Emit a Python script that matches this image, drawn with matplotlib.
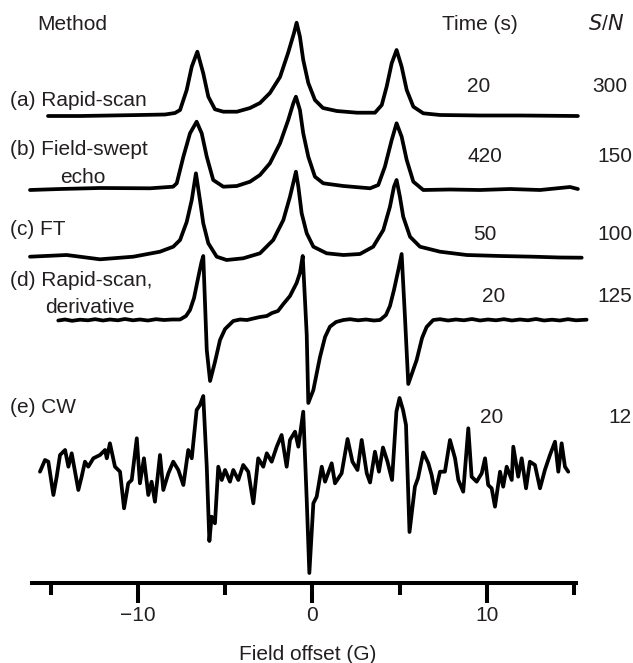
import numpy as np
import matplotlib
matplotlib.use("Agg")
import matplotlib.pyplot as plt

plt.rcParams['font.family'] = ['Liberation Sans', 'DejaVu Sans']

# ---- spectra (field in G, signal in arbitrary units) ----
a_field = [-15.16, -13.32, -11.60, -9.89, -8.45, -7.88, -7.59, -7.21, -6.92, -6.60,
           -6.26, -5.97, -5.59, -5.11, -4.33, -3.58, -3.01, -2.44, -1.86, -1.40,
           -1.06, -0.91, -0.72, -0.53, -0.24, 0.14, 0.60, 1.39, 2.55, 3.58,
           3.97, 4.25, 4.54, 4.82, 5.11, 5.40, 5.78, 6.35, 7.31, 9.60,
           11.89, 15.21]
a_signal = [0, 0, 0.5, 1, 1.5, 3, 6, 26, 49.3, 64.3,
            42.7, 19.3, 6.7, 4.3, 4.3, 8, 13, 23, 39, 63,
            83, 93.3, 79.3, 56, 33, 16, 8, 5, 3.3, 3.3,
            11, 29.3, 52.7, 66, 49.3, 26, 9.3, 2.7, 1, 0.5,
            0.5, 0]

b_field = [-16.19, -14.47, -12.18, -9.31, -7.99, -7.78, -7.40, -7.02, -6.64, -6.35,
           -6.06, -5.69, -5.11, -4.34, -3.58, -3.01, -2.44, -1.86, -1.39, -1.10,
           -0.95, -0.72, -0.53, -0.24, 0.14, 0.62, 1.77, 3.30, 3.77, 4.15,
           4.54, 4.82, 5.11, 5.40, 5.78, 6.35, 7.88, 9.60, 11.32, 13.04,
           14.76, 15.21]
b_signal = [0, 1, 2, 1.7, 3.3, 6.7, 33.3, 56.7, 68.3, 56.7,
            33.3, 10, 3.3, 4, 8.3, 15, 26.7, 46.7, 70, 86.7,
            93.3, 80, 56.7, 33.3, 13.3, 6.7, 4, 1.7, 5, 23.3,
            50, 66.7, 53.3, 30, 8.3, 0, 0.5, 0, 1, 0,
            3, 1]

c_field = [-16.19, -14.09, -12.18, -10.27, -8.74, -7.98, -7.59, -7.21, -6.92, -6.68,
           -6.45, -6.26, -5.97, -5.49, -4.92, -3.97, -3.01, -2.25, -1.67, -1.29,
           -1.06, -0.95, -0.81, -0.62, -0.33, 0.05, 0.81, 1.77, 2.72, 3.48,
           4.06, 4.44, 4.67, 4.82, 5.01, 5.20, 5.59, 6.16, 7.31, 8.84,
           10.75, 12.64, 14.18, 15.43]
c_signal = [0.3, 2, -2.3, 0.3, 5.3, 10.3, 17, 35, 57, 83.7,
            57, 33.7, 13.7, 0.3, -3, -1.3, 3.7, 17, 37, 60.3,
            77, 85.3, 70.3, 43.7, 23.7, 10.3, 3.7, 2, 3, 10.3,
            27, 50.3, 70.3, 77, 60.3, 40.3, 20.3, 10.3, 5.3, 2,
            1, 0.3, -0.5, -0.7]

d_field = [-14.57, -14.18, -13.78, -13.32, -12.87, -12.46, -12.01, -11.61, -11.15, -10.75,
           -10.29, -9.89, -9.43, -8.97, -8.51, -8.05, -7.59, -7.25, -7.02, -6.79,
           -6.54, -6.36, -6.26, -6.06, -5.87, -5.59, -5.30, -5.01, -4.54, -4.15,
           -3.75, -3.39, -3.01, -2.62, -2.32, -1.98, -1.67, -1.29, -0.91, -0.72,
           -0.56, -0.43, -0.33, -0.24, 0.05, 0.43, 0.72, 1.00, 1.35, 1.77,
           2.15, 2.61, 3.07, 3.52, 3.87, 4.21, 4.44, 4.67, 4.92, 5.11,
           5.30, 5.49, 5.97, 6.28, 6.54, 6.92, 7.31, 7.77, 8.22, 8.68,
           9.14, 9.60, 10.06, 10.52, 10.97, 11.43, 11.89, 12.35, 12.81, 13.27,
           13.73, 14.18, 14.64, 15.10, 15.71]
d_signal = [-0.5, 0.5, -0.8, 0.3, -0.3, 0.8, -0.5, 0.5, -0.3, 1,
            -0.3, 0.5, -0.5, 0.8, 0, 0.5, 0.5, 4, 10, 22,
            43.3, 58, 64, -30, -61, -42, -20, -9, -1, 0.5,
            0, 1.5, 3, 4, 7, 9, 16, 24, 37, 47,
            64, 20, -15, -83, -70, -37, -17, -6.7, -2, 0,
            0.8, -0.3, 0.5, -0.5, 0, 5, 14, 30, 50, 66,
            3, -64, -40, -18, -7, 0, 0.8, -0.5, 0.5, -0.3,
            1, -0.5, 0.5, -0.3, 0.8, -0.5, 0.5, -0.3, 1, -0.5,
            0.3, -0.5, 0.8, -0.3, 0.3]

e_field = [-15.62, -15.33, -15.14, -14.85, -14.66, -14.47, -14.18, -13.99, -13.80, -13.42,
           -13.23, -13.04, -12.85, -12.56, -12.18, -11.89, -11.79, -11.61, -11.32, -11.03,
           -10.80, -10.56, -10.36, -10.07, -9.89, -9.66, -9.41, -9.22, -9.03, -8.74,
           -8.55, -8.26, -7.98, -7.69, -7.40, -7.12, -6.92, -6.64, -6.45, -6.26,
           -6.06, -5.91, -5.78, -5.59, -5.40, -5.20, -5.01, -4.73, -4.54, -4.25,
           -3.97, -3.68, -3.39, -3.11, -2.82, -2.62, -2.34, -2.05, -1.77, -1.48,
           -1.29, -1.00, -0.81, -0.53, -0.33, -0.18, 0.05, 0.24, 0.53, 0.72,
           1.10, 1.29, 1.67, 2.01, 2.29, 2.58, 2.82, 3.11, 3.30, 3.58,
           3.81, 4.04, 4.30, 4.56, 4.81, 4.99, 5.19, 5.36, 5.56, 5.87,
           6.05, 6.35, 6.64, 6.83, 7.02, 7.31, 7.59, 7.88, 8.17, 8.36,
           8.64, 8.93, 9.12, 9.41, 9.70, 9.89, 10.07, 10.27, 10.46, 10.75,
           10.93, 11.13, 11.42, 11.51, 11.79, 11.99, 12.24, 12.46, 12.75, 13.04,
           13.32, 13.61, 13.90, 14.09, 14.28, 14.47, 14.66]
e_signal = [-1.7, 10, 8.3, -25, -6.7, 15, 20, 3.3, 16.7, -20,
            -6.7, 8.3, 3.3, 11.7, 15, 20, 11.7, 26.7, 3.3, -1.7,
            -38.3, -13.3, -10, 31.7, -13.3, 11.7, -25, -11.7, -31.7, 15,
            -20, -3.3, 8.3, 0, -15, 20, 11.7, 60, 65, 74,
            3.3, -71, -46.7, -53.3, 3.3, -10, 0, -11.7, 0, -10,
            5, -1.7, -33.3, 11.7, 3.3, 16.7, 8.3, 23.3, 35, 3.3,
            30, 38.3, 23.3, 58.3, -30, -103, -33.3, -26.7, 3.3, -11.7,
            6.7, -13.3, -3.3, 31, 8.3, 0, 30, -3.3, -12.5, 18.3,
            -1.7, 22.5, 8.3, -10, 58.3, 72, 60, 45, -62, -16.7,
            -8, 17.5, 6.7, -5, -23.3, -1.7, -1.7, 30, 11.7, -10,
            -21.7, 41.7, -6.7, -11.7, -3.3, 11.7, -15, -18.3, -36.7, -1.7,
            -16.7, 3.3, -10, 23.3, -6.7, 11.7, -18.3, 8.3, 5, -18.3,
            0, 15, 28.3, -1.7, 26.7, 3.3, -1.7]

methods = ['(a) Rapid-scan', '(b) Field-swept', '(c) FT', '(d) Rapid-scan,', '(e) CW']
times = ['20', '420', '50', '20', '20']
snr = ['300', '150', '100', '125', '12']

# ---- layout (pixel frame of the 633x663 picture) ----
W, H = 633, 663
ink = '#231f20'
fs = 15

fig = plt.figure(figsize=(W / 100, H / 100), dpi=100)
ax = fig.add_axes([0, 80 / H, 1, 583 / H])
ax.set_xlim(-17.91, 18.37)
ax.set_ylim(583, 0)

baselines = [116, 190, 257, 320, 470]
traces = [(a_field, a_signal), (b_field, b_signal), (c_field, c_signal),
          (d_field, d_signal), (e_field, e_signal)]
for (f, s), base in zip(traces, baselines):
    ax.plot(f, base - np.asarray(s), color='black', lw=2.7,
            solid_joinstyle='round', solid_capstyle='round', clip_on=False)

for side in ['left', 'top', 'right']:
    ax.spines[side].set_visible(False)
ax.spines['bottom'].set_linewidth(2.9)
ax.spines['bottom'].set_bounds(-16.1, 15.1)
ax.set_yticks([])
ax.set_xticks([-10, 0, 10])
ax.set_xticks([-15, -5, 5, 15], minor=True)
ax.tick_params(axis='x', which='major', length=14.4, width=2.9, pad=2.5,
               labelsize=fs, labelcolor=ink)
ax.tick_params(axis='x', which='minor', length=8.6, width=2.9)


def label(x, y, s, **kw):
    fig.text(x / W, 1 - y / H, s, fontsize=fs, color=ink, va='baseline', **kw)


label(37, 30, 'Method')
label(442, 30, 'Time (s)')
label(588, 30, '$S$/$N$')

method_pos = [(10, 106), (10, 155), (10, 235), (10, 286), (10, 413)]
time_pos = [(467, 92), (468, 162), (473, 240), (482, 302), (480, 423)]
snr_pos = [(592, 92), (597, 162), (597, 240), (597, 302), (608, 423)]
for name, (x, y) in zip(methods, method_pos):
    label(x, y, name)
for t, (x, y) in zip(times, time_pos):
    label(x, y, t)
for s, (x, y) in zip(snr, snr_pos):
    label(x, y, s)
label(60, 183, 'echo')
label(45, 313, 'derivative')

label(307.5, 660, 'Field offset (G)', ha='center')

fig.savefig('out.png', dpi=100)
